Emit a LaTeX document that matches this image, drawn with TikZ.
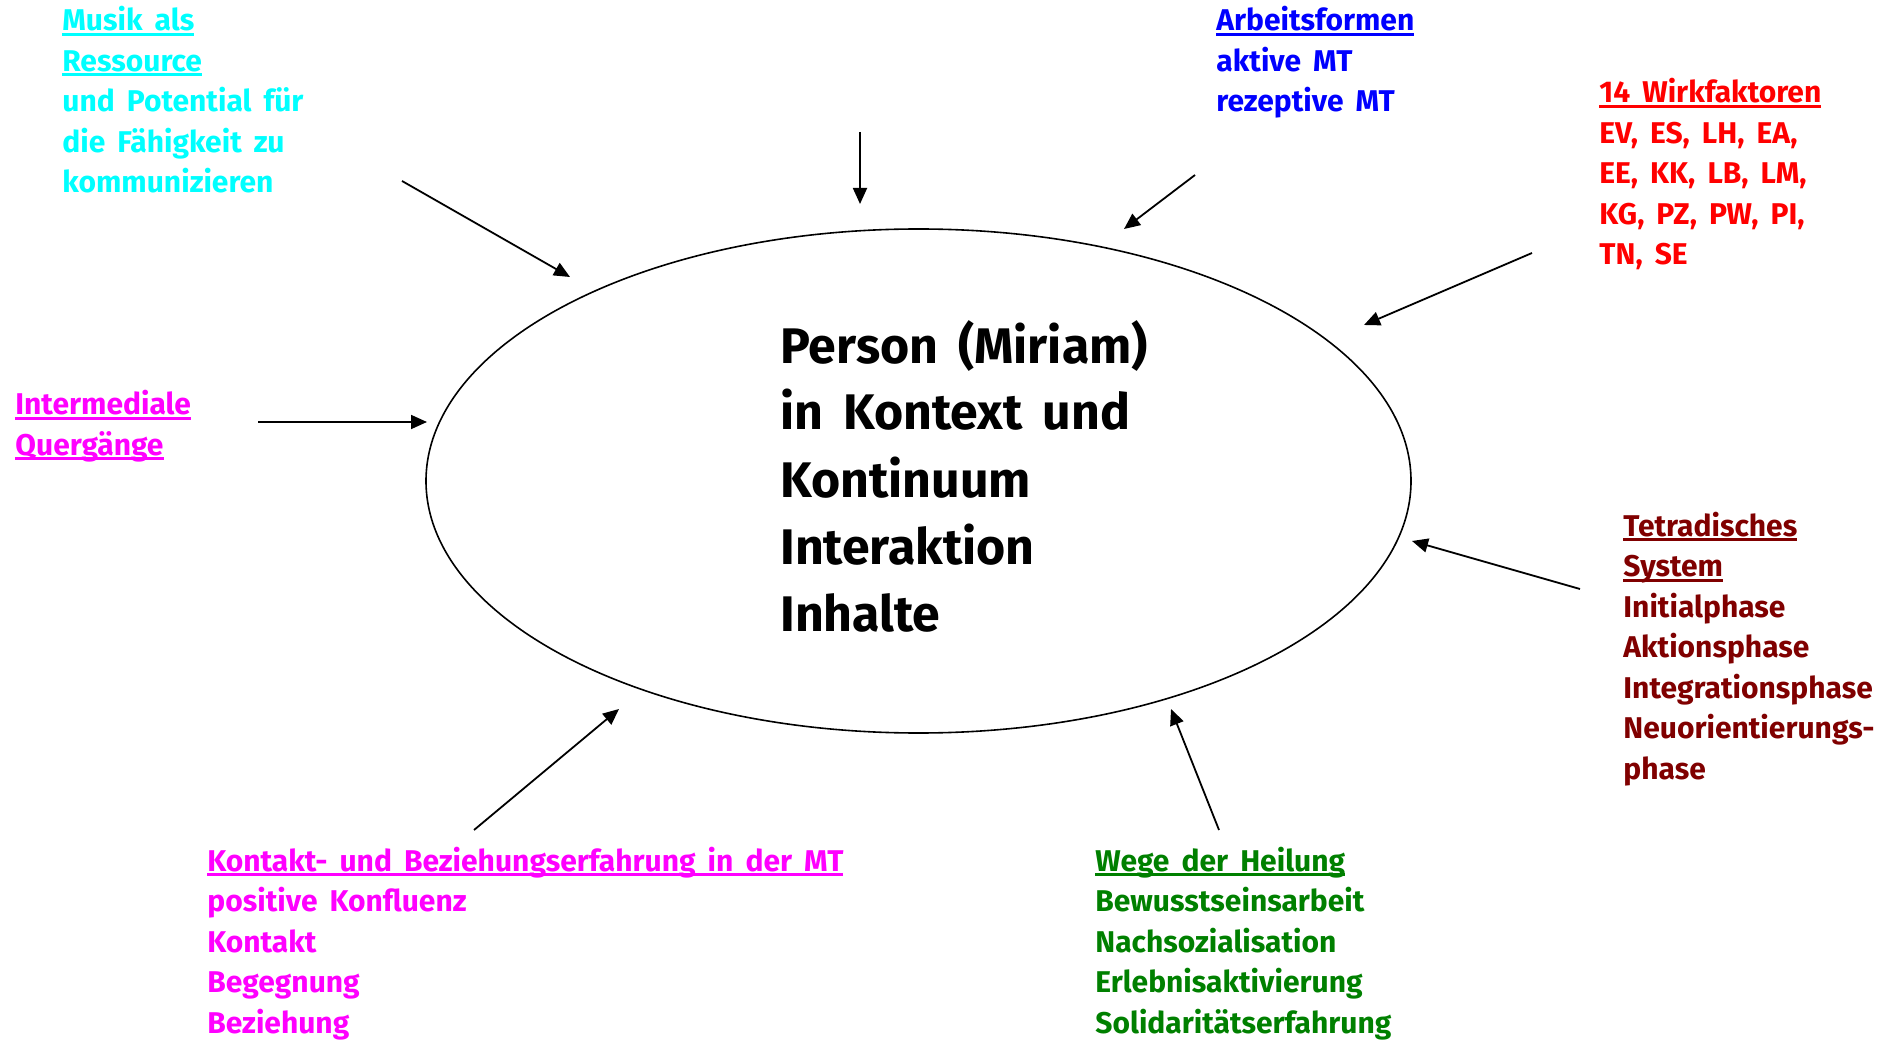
\documentclass[tikz,border=0pt]{standalone}
\usepackage{fontspec}
\setmainfont{Fira Sans}[WordSpace=1.7]
\usetikzlibrary{arrows.meta,shapes.geometric}
\definecolor{mtcyan}{HTML}{00FFFF}
\definecolor{mtblue}{HTML}{0000FF}
\definecolor{mtred}{HTML}{FF0000}
\definecolor{mtdark}{HTML}{800000}
\definecolor{mtpink}{HTML}{FF00FF}
\definecolor{mtgreen}{HTML}{008000}
\newcommand\ulx[1]{\setbox0\hbox{#1}\rlap{\rule[-2.5pt]{\wd0}{1.5pt}}\box0}

\begin{document}
\begin{tikzpicture}[x=0.5pt, y=-0.5pt,
        every node/.style={font=\fontsize{15pt}{20.25pt}\selectfont\bfseries, inner sep=0pt},
        blk/.style={anchor=base west, align=left},
        core/.style={blk, font=\fontsize{25pt}{33.5pt}\selectfont\bfseries},
        ring/.style={draw, ellipse, line width=0.8pt,
          minimum width=492.5pt, minimum height=252pt},
        arr/.style={-{Triangle[length=8pt,width=7pt]}, line width=0.9pt},
      ]
      \useasboundingbox (0,0) rectangle (1899,1042);

      \node[ring] (person) at (918.5,481) {};
      \node[core] (inhalt) at (780,631)
        {Person (Miriam)\\in Kontext und\\Kontinuum\\Interaktion\\Inhalte};

      \node[blk, text=mtcyan] (musik) at (62,193)
        {\ulx{Musik als}\\\ulx{Ressource}\\und Potential für\\die Fähigkeit zu\\kommunizieren};
      \node[blk, text=mtblue] (arbeit) at (1216,112)
        {\ulx{Arbeitsformen}\\aktive MT\\rezeptive MT};
      \node[blk, text=mtred] (wirk) at (1599,265)
        {\ulx{14 Wirkfaktoren}\\EV, ES, LH, EA,\\EE, KK, LB, LM,\\KG, PZ, PW, PI,\\TN, SE};
      \node[blk, text=mtpink] (inter) at (15,455.5)
        {\ulx{Intermediale}\\\ulx{Quergänge}};
      \node[blk, text=mtdark] (tetra) at (1623,779)
        {\ulx{Tetradisches}\\\ulx{System}\\Initialphase\\Aktionsphase\\Integrationsphase\\Neuorientierungs-\\phase};
      \node[blk, text=mtpink] (kontakt) at (207,1033)
        {\ulx{Kontakt- und Beziehungserfahrung in der MT}\\positive Konfluenz\\Kontakt\\Begegnung\\Beziehung};
      \node[blk, text=mtgreen] (wege) at (1095,1033)
        {\ulx{Wege der Heilung}\\Bewusstseinsarbeit\\Nachsozialisation\\Erlebnisaktivierung\\Solidaritätserfahrung};

      \coordinate (musik-a)   at (402,181);  \coordinate (musik-b)   at (570,277);
      \coordinate (top-a)     at (860,132);  \coordinate (top-b)     at (860,204);
      \coordinate (arbeit-a)  at (1195,175); \coordinate (arbeit-b)  at (1124,229);
      \coordinate (wirk-a)    at (1532,253); \coordinate (wirk-b)    at (1364,325);
      \coordinate (inter-a)   at (258,422);  \coordinate (inter-b)   at (427,422);
      \coordinate (tetra-a)   at (1580,589); \coordinate (tetra-b)   at (1412,541);
      \coordinate (wege-a)    at (1219,830); \coordinate (wege-b)    at (1171,709);
      \coordinate (kontakt-a) at (474,830);  \coordinate (kontakt-b) at (619,709);

      \foreach \n in {musik,top,arbeit,wirk,inter,tetra,wege,kontakt}
        \draw[arr] (\n-a) -- (\n-b);
    \end{tikzpicture}
\end{document}
